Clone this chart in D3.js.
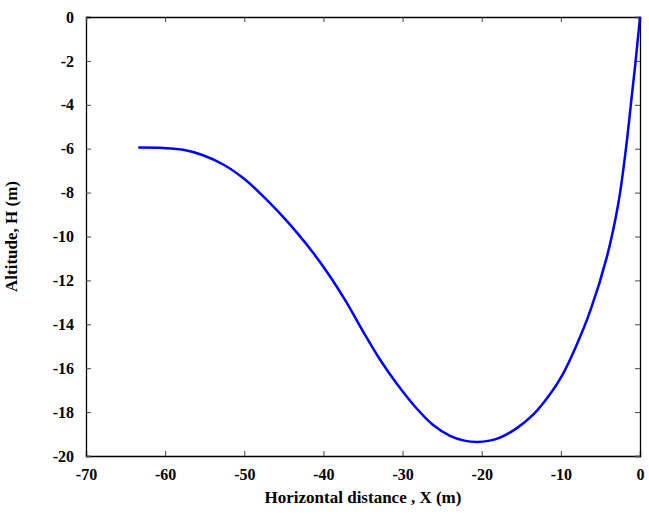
<!DOCTYPE html>
<html>
<head>
<meta charset="utf-8">
<script src="https://cdn.jsdelivr.net/npm/d3@7"></script>
<style>
    body { margin: 0; background: #fff; }
    text { font-family: "Liberation Serif", "Times New Roman", serif; font-weight: bold; }
</style>
</head>
<body>
<div id="chart"></div>
<script>
// pontos (x horizontal, h altitude)
const distX = [-63.4, -60.2, -57.7, -55.2, -52.6, -50.1, -47.6, -45.5, -43.4, -41.3, -39.2, -37.1, -35.0,
               -32.9, -30.7, -28.3, -26.1, -24.0, -22.2, -20.6, -19.0, -17.7, -15.6, -13.5, -11.4,
               -9.8, -8.2, -6.3, -4.2, -2.74, -1.8, -1.05, -0.5, 0];
const altH  = [-5.95, -5.97, -6.05, -6.30, -6.73, -7.35, -8.17, -8.95, -9.80, -10.74, -11.80, -12.99, -14.32,
               -15.58, -16.72, -17.80, -18.60, -19.08, -19.30, -19.36, -19.30, -19.16, -18.74, -18.12, -17.20,
               -16.30, -15.10, -13.40, -10.95, -8.5, -6.07, -3.64, -1.82, 0];

const xTicks = [-70, -60, -50, -40, -30, -20, -10, 0];
const yTicks = [0, -2, -4, -6, -8, -10, -12, -14, -16, -18, -20];

const config = { div: "#chart", width: 554, height: 439, left: 86, top: 17, right: 9, bottom: 58 };

const svg = d3.select(config.div).append("svg")
    .attr("width", config.width + config.left + config.right)
    .attr("height", config.height + config.top + config.bottom);

const g = svg.append("g").attr("transform", `translate(${config.left},${config.top})`);

const xScale = d3.scaleLinear().domain([-70, 0]).range([0, config.width]);
const yScale = d3.scaleLinear().domain([-20, 0]).range([config.height, 0]);

// hífen simples como no original
const fmt = d => String(d);

// eixos de baixo e esquerda com labels, marcas para dentro
const xAxis = d3.axisBottom(xScale).tickValues(xTicks).tickSize(-5).tickPadding(10).tickFormat(fmt);
const yAxis = d3.axisLeft(yScale).tickValues(yTicks).tickSize(-5).tickPadding(12).tickFormat(fmt);

const gx = g.append("g").attr("transform", `translate(0,${config.height})`).call(xAxis);
const gy = g.append("g").call(yAxis);

// espelho em cima e na direita, sem labels
const gxTop = g.append("g").call(d3.axisTop(xScale).tickValues(xTicks).tickSize(-5).tickFormat(""));
const gyRight = g.append("g").attr("transform", `translate(${config.width},0)`)
    .call(d3.axisRight(yScale).tickValues(yTicks).tickSize(-5).tickFormat(""));

[gx, gy, gxTop, gyRight].forEach(a => {
    a.select(".domain").attr("stroke", "#000").attr("stroke-width", 1.3);
    a.selectAll(".tick line").attr("stroke", "#444").attr("stroke-width", 1);
    a.selectAll(".tick text").attr("font-size", 16).attr("fill", "#000")
        .style("font-family", '"Liberation Serif", serif').style("font-weight", "bold");
});
gx.selectAll(".tick text").attr("dy", "0.9em");

// curva
const line = d3.line()
    .x((d, i) => xScale(distX[i]))
    .y((d, i) => yScale(altH[i]))
    .curve(d3.curveCatmullRom.alpha(0.5));

g.append("path")
    .datum(distX)
    .attr("d", line)
    .attr("fill", "none")
    .attr("stroke", "#0000ff")
    .attr("stroke-width", 2.5);

// títulos dos eixos
svg.append("text")
    .attr("x", config.left + config.width / 2)
    .attr("y", 503)
    .attr("text-anchor", "middle")
    .attr("font-size", 17)
    .text("Horizontal distance , X (m)");

svg.append("text")
    .attr("transform", `translate(17,${config.top + config.height / 2}) rotate(-90)`)
    .attr("text-anchor", "middle")
    .attr("font-size", 17)
    .text("Altitude, H (m)");
</script>
</body>
</html>
